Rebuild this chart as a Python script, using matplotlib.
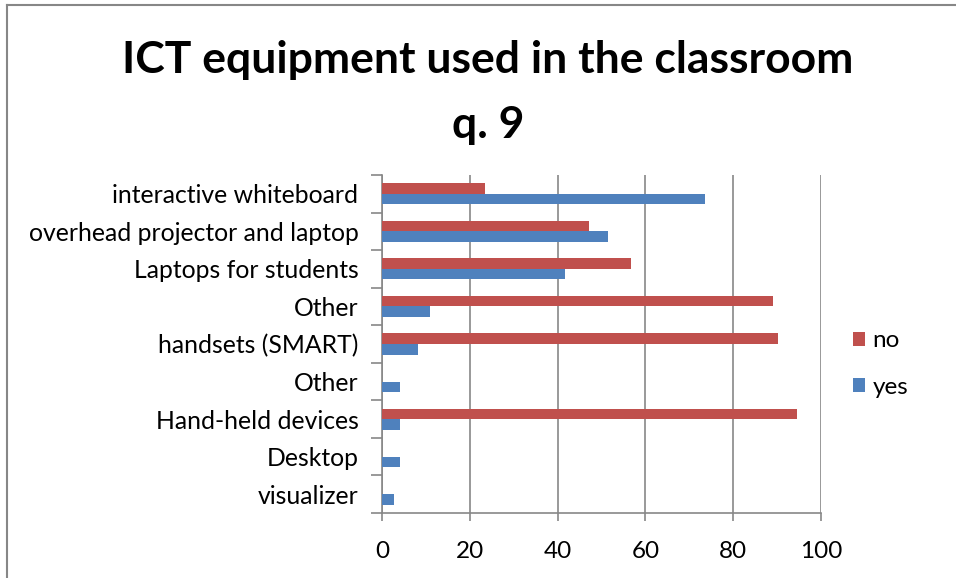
import matplotlib.pyplot as plt
import numpy as np
from matplotlib.lines import Line2D

# categories listed bottom to top, as in the chart
categories = ["visualizer", "Desktop", "Hand-held devices", "Other",
              "handsets (SMART)", "Other", "Laptops for students",
              "overhead projector and laptop", "interactive whiteboard"]
yes_vals = [2.7, 4.1, 4.1, 4.1, 8.2, 10.9, 41.6, 51.4, 73.6]
no_vals = [0, 0, 94.5, 0, 90.3, 89.0, 56.8, 47.1, 23.5]
x_ticks = [0, 20, 40, 60, 80, 100]

RED = "#C0504D"
BLUE = "#4F81BD"
GRID = "#878787"

plt.rcParams["font.family"] = ["Lato", "DejaVu Sans"]

fig = plt.figure(figsize=(9.56, 5.78), dpi=100)
ax = fig.add_axes([382 / 956, 1 - 513 / 578, 439 / 956, 338 / 578])

y = np.arange(len(categories))
h = 0.28
ax.barh(y - h / 2, yes_vals, height=h, color=BLUE, label="yes", zorder=3)
ax.barh(y + h / 2, no_vals, height=h, color=RED, label="no", zorder=3)

ax.set_xlim(0, 100)
ax.set_ylim(-0.5, len(categories) - 0.5)
ax.set_xticks(x_ticks)
ax.set_xticklabels([str(v) for v in x_ticks], fontsize=17.5)
ax.xaxis.grid(True, color=GRID, linewidth=1.2, zorder=0)

# category boundaries carry the tick marks, labels sit in between
ax.set_yticks(np.arange(-0.5, len(categories), 1.0))
ax.set_yticklabels([])
ax.set_yticks(y, minor=True)
ax.set_yticklabels(categories, minor=True, fontsize=17.8)
ax.tick_params(axis="y", which="major", length=8, color=GRID, width=1.2)
ax.tick_params(axis="y", which="minor", length=0, pad=17)
ax.tick_params(axis="x", length=6, color=GRID, width=1.2, pad=14)

for s in ["top", "right"]:
    ax.spines[s].set_visible(False)
for s in ["left", "bottom"]:
    ax.spines[s].set_color(GRID)
    ax.spines[s].set_linewidth(1.2)

fig.text(488 / 956, 1 - 60 / 578, "ICT equipment used in the classroom",
         ha="center", va="center", fontsize=32, fontweight="bold")
fig.text(488 / 956, 1 - 125 / 578, "q. 9",
         ha="center", va="center", fontsize=32, fontweight="bold")

handles, labels = ax.get_legend_handles_labels()
fig.legend(handles[::-1], labels[::-1], loc="center left",
           bbox_to_anchor=(853 / 956, 1 - 364 / 578), frameon=False,
           fontsize=17.5, handlelength=0.5, handleheight=0.5,
           handletextpad=0.3, labelspacing=1.05, borderpad=0,
           borderaxespad=0)

# outer chart border (left and top visible in the crop)
fig.add_artist(Line2D([7 / 956, 7 / 956], [0, 1 - 5 / 578],
                      color=GRID, linewidth=1.5))
fig.add_artist(Line2D([7 / 956, 1], [1 - 5 / 578, 1 - 5 / 578],
                      color=GRID, linewidth=1.5))

fig.savefig("out.png", dpi=100)
